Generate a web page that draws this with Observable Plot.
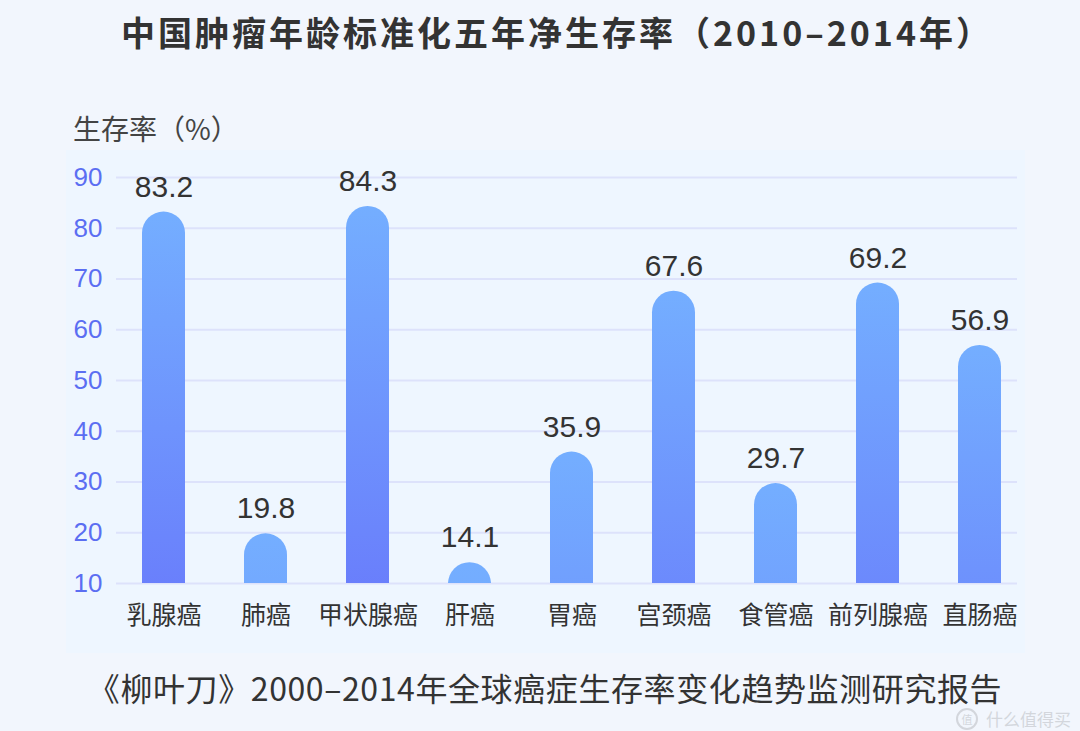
<!DOCTYPE html>
<html>
<head>
<meta charset="utf-8">
<script src="https://cdn.jsdelivr.net/npm/d3@7"></script>
<script src="https://cdn.jsdelivr.net/npm/@observablehq/plot@0.6"></script>
<style>
  html, body { margin: 0; padding: 0; background: #f2f6fd; }
  #wrap { position: relative; width: 1080px; height: 731px; overflow: hidden; font-family: "Noto Sans CJK SC", "Noto Sans", sans-serif; color: #333; }
  #panel { position: absolute; left: 66px; top: 150px; width: 959px; height: 503px; background: #eef6ff; }
  #title { position: relative; height: 64px; line-height: 64px; text-align: center; padding-left: 34px; font-size: 34px; font-weight: bold; color: #333; letter-spacing: 3px; }
  #ylabel { position: relative; height: 92px; box-sizing: border-box; padding-top: 49px; padding-left: 73px; font-size: 28px; line-height: 30px; color: #444; }
  #chart { position: relative; height: 500px; }
  #caption { position: relative; height: 75px; line-height: 62px; text-align: center; padding-left: 10px; font-size: 32px; color: #333; letter-spacing: 0.6px; }
  #wm { position: absolute; left: 956px; top: 708px; font-size: 17px; line-height: 20px; color: #d3d6dc; display: flex; align-items: center; gap: 8px; }
  #wm .c { width: 18px; height: 18px; border-radius: 50%; border: 2px solid #d3d6dc; font-size: 11px; line-height: 18px; text-align: center; }
</style>
</head>
<body>
<div id="wrap">
  <div id="panel"></div>
  <div id="title">中国肿瘤年龄标准化五年净生存率（2010–2014年）</div>
  <div id="ylabel">生存率（%）</div>
  <div id="chart"></div>
  <div id="caption">《柳叶刀》2000–2014年全球癌症生存率变化趋势监测研究报告</div>
  <div id="wm"><span class="c">值</span><span>什么值得买</span></div>
</div>
<script>
const categories = ["乳腺癌", "肺癌", "甲状腺癌", "肝癌", "胃癌", "宫颈癌", "食管癌", "前列腺癌", "直肠癌"];
const survival = [83.2, 19.8, 84.3, 14.1, 35.9, 67.6, 29.7, 69.2, 56.9];
const yTicks = [10, 20, 30, 40, 50, 60, 70, 80, 90];

const data = categories.map((c, i) => ({cat: c, v: survival[i]}));
const yMin = yTicks[0], yMax = yTicks[yTicks.length - 1];
const font = '"Noto Sans CJK SC", "Noto Sans", sans-serif';
const numFont = '"Liberation Sans", Arial, sans-serif';

const chart = Plot.plot({
  width: 1080,
  height: 500,
  marginTop: 21,
  marginBottom: 73,
  marginLeft: 116,
  marginRight: 53,
  style: {background: "transparent", fontFamily: font, overflow: "visible"},
  x: {domain: categories, paddingInner: 0.582, paddingOuter: 0.219, axis: null},
  y: {domain: [yMin, yMax], axis: null},
  marks: [
    Plot.ruleY(yTicks, {stroke: "#dde2fb", strokeWidth: 2, insetRight: 10}),
    Plot.barY(data, {x: "cat", y1: yMin, y2: "v", rx: 21.5, insetBottom: -25, clip: true, fill: "#6e95fd"}),
    Plot.text(data, {x: "cat", y: "v", text: d => d.v.toFixed(1), dy: -25, fontSize: 30, fill: "#333", fontFamily: numFont}),
    Plot.axisY({ticks: yTicks, tickSize: 0, tickPadding: 14, fontSize: 26, color: "#5b6ef2", label: null, fontFamily: numFont}),
    Plot.axisX({tickSize: 0, tickPadding: 23, fontSize: 25, color: "#333", label: null})
  ]
});

// per-bar vertical gradients (light top, darkening with bar length)
const svg = d3.select(chart);
const defs = svg.insert("defs", ":first-child");
survival.forEach((v, i) => {
  const g = defs.append("linearGradient").attr("id", "g" + i)
    .attr("x1", 0).attr("x2", 0).attr("y1", 0)
    .attr("y2", (yMax - yMin) / (v - yMin));
  g.append("stop").attr("offset", "0%").attr("stop-color", "#74aeff");
  g.append("stop").attr("offset", "100%").attr("stop-color", "#6878fb");
});
svg.selectAll('g[aria-label="bar"] rect').attr("fill", (d, i) => `url(#g${i})`);

document.getElementById("chart").appendChild(chart);
</script>
</body>
</html>
